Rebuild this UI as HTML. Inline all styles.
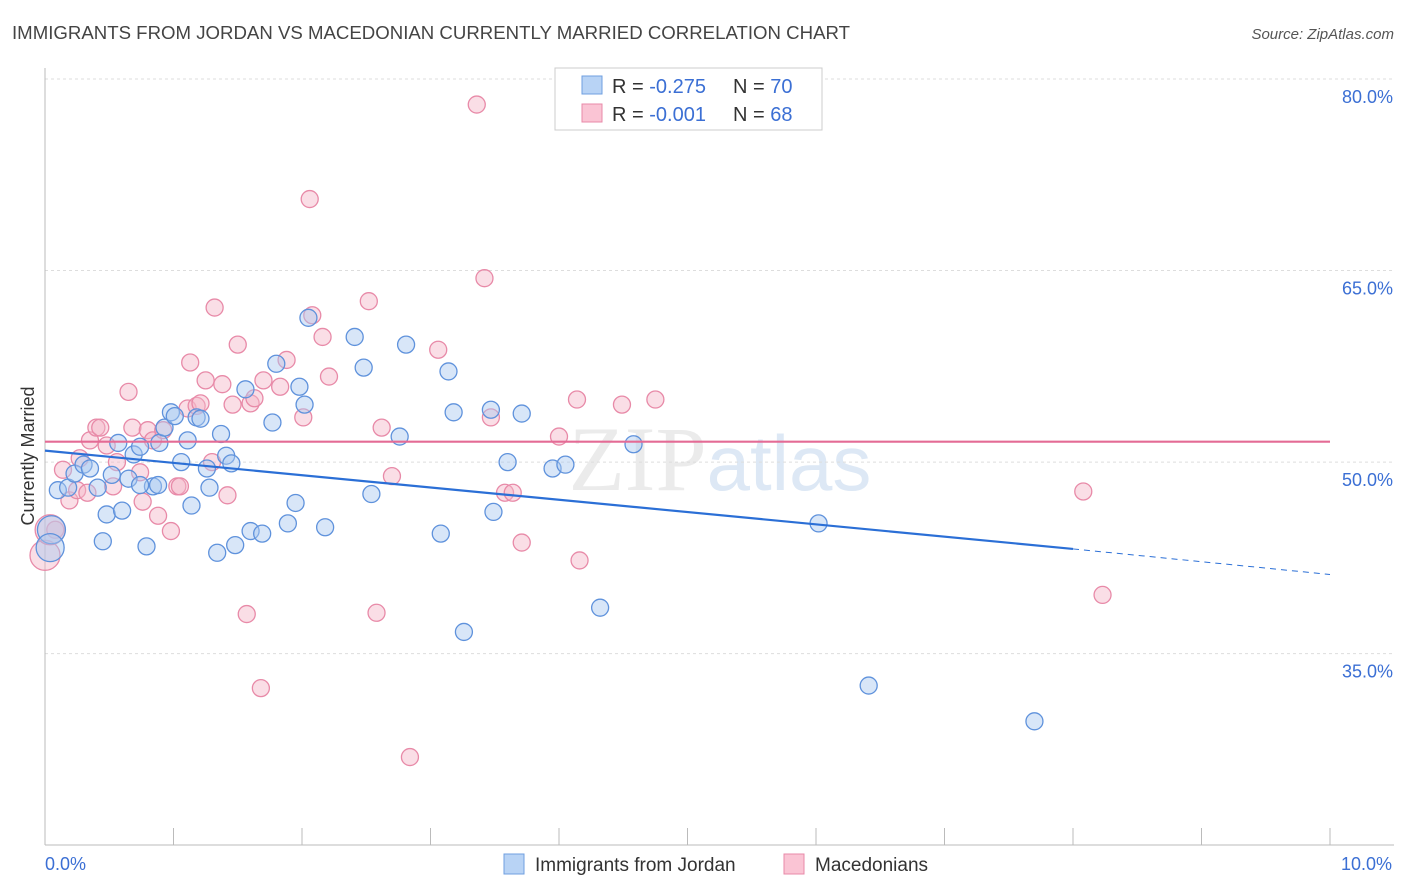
<!DOCTYPE html>
<html><head><meta charset="utf-8"><style>
body{margin:0;background:#fff;font-family:"Liberation Sans",sans-serif}
svg{display:block}
</style></head><body>
<svg id="chart" width="1406" height="892" viewBox="0 0 1406 892">
<text x="12" y="39" font-size="18" fill="#444" textLength="838" lengthAdjust="spacingAndGlyphs">IMMIGRANTS FROM JORDAN VS MACEDONIAN CURRENTLY MARRIED CORRELATION CHART</text>
<text x="1394" y="39" font-size="15" fill="#555" text-anchor="end" font-style="italic">Source: ZipAtlas.com</text>
<text x="720" y="490" font-size="92" text-anchor="middle" fill="#ebebeb" font-family="Liberation Serif, serif">ZIP<tspan fill="#dde8f5" font-family="Liberation Sans, sans-serif" font-size="78">atlas</tspan></text>
<g id="grid"></g>
<g id="axes"></g>
<g id="pts"></g>
<g id="lines"></g>
<text transform="translate(34,456) rotate(-90)" font-size="18" fill="#333" text-anchor="middle">Currently Married</text>
<g>
<rect x="555" y="68" width="267" height="62" fill="#fff" stroke="#ccc"/>
<rect x="582" y="76" width="20" height="18" fill="#b8d3f5" stroke="#6f9fe0"/>
<rect x="582" y="104" width="20" height="18" fill="#fac4d4" stroke="#e88aa8"/>
<text x="612" y="93" font-size="20" fill="#333">R = <tspan fill="#3b6fd4">-0.275</tspan></text>
<text x="733" y="93" font-size="20" fill="#333">N = <tspan fill="#3b6fd4">70</tspan></text>
<text x="612" y="121" font-size="20" fill="#333">R = <tspan fill="#3b6fd4">-0.001</tspan></text>
<text x="733" y="121" font-size="20" fill="#333">N = <tspan fill="#3b6fd4">68</tspan></text>
</g>
<g>
<rect x="504" y="854" width="20" height="20" fill="#b8d3f5" stroke="#6f9fe0"/>
<text x="535" y="871" font-size="19" fill="#333">Immigrants from Jordan</text>
<rect x="784" y="854" width="20" height="20" fill="#fac4d4" stroke="#e88aa8"/>
<text x="815" y="871" font-size="19" fill="#333">Macedonians</text>
</g>
</svg>
<script>
const yTicks=[80,65,50,35];
const yTickLabels=["80.0%","65.0%","50.0%","35.0%"];
const xTickLabels=["0.0%","10.0%"];
const blueX=[.10,.18,.23,.30,.35,.41,.48,.45,.57,.60,.65,.69,.74,.79,.84,.89,.93,.98,1.01,1.06,1.11,1.14,1.18,1.21,1.26,1.28,1.34,1.37,1.41,1.45,1.48,1.56,1.60,1.69,1.77,1.80,1.89,1.95,1.98,2.02,2.05,2.18,2.41,2.48,2.54,2.76,2.81,3.08,3.14,3.18,3.26,3.47,3.49,3.60,3.71,3.95,4.05,4.32,4.58,6.02,6.41,7.70,.52,.74,.88];
const blueY=[47.8,48.0,49.1,49.8,49.5,48.0,45.9,43.8,51.5,46.2,48.7,50.6,51.2,43.4,48.1,51.5,52.7,53.9,53.6,50.0,51.7,46.6,53.5,53.4,49.5,48.0,42.9,52.2,50.5,49.9,43.5,55.7,44.6,44.4,53.1,57.7,45.2,46.8,55.9,54.5,61.3,44.9,59.8,57.4,47.5,52.0,59.2,44.4,57.1,53.9,36.7,54.1,46.1,50.0,53.8,49.5,49.8,38.6,51.4,45.2,32.5,29.7,49.0,48.2,48.2];
const blueBigX=[.05,.04];
const blueBigY=[44.7,43.3];
const pinkX=[.08,.14,.19,.25,.27,.33,.35,.40,.43,.48,.53,.56,.65,.68,.74,.76,.80,.84,.88,.92,.98,1.03,1.05,1.11,1.13,1.18,1.21,1.25,1.30,1.32,1.38,1.42,1.46,1.50,1.57,1.60,1.63,1.68,1.70,1.83,1.88,2.01,2.06,2.08,2.16,2.21,2.52,2.58,2.62,2.70,2.84,3.06,3.36,3.42,3.47,3.58,3.64,3.71,4.00,4.14,4.16,4.49,4.75,8.08,8.23];
const pinkY=[44.7,49.4,47.0,47.8,50.3,47.6,51.7,52.7,52.7,51.3,48.1,50.0,55.5,52.7,49.2,46.9,52.5,51.7,45.8,52.5,44.6,48.1,48.1,54.2,57.8,54.4,54.6,56.4,50.0,62.1,56.1,47.4,54.5,59.2,38.1,54.6,55.0,32.3,56.4,55.9,58.0,53.5,70.6,61.5,59.8,56.7,62.6,38.2,52.7,48.9,26.9,58.8,78.0,64.4,53.5,47.6,47.6,43.7,52.0,54.9,42.3,54.5,54.9,47.7,39.6];
const pinkBigX=[0,.04];
const pinkBigY=[42.7,44.7];
const blueTrend=[50.9,43.2,41.2];
const pinkTrend=[51.6,51.6];
const NS="http://www.w3.org/2000/svg";
const X=v=>45+v*128.5, Y=v=>79+(80-v)*12.77;
function mk(tag,attrs,parent){const e=document.createElementNS(NS,tag);for(const k in attrs)e.setAttribute(k,attrs[k]);document.getElementById(parent).appendChild(e);return e;}
yTicks.forEach((t,i)=>{
 const l=mk('line',{x1:45,x2:1394,y1:Y(t),y2:Y(t),stroke:'#ddd','stroke-dasharray':'3,3'},'grid');
 
 
 const tx=mk('text',{x:1393,y:Y(t)+24,'font-size':18,fill:'#3b6fd4','text-anchor':'end'},'grid');
 tx.textContent=yTickLabels[i];
 
 
});
mk('line',{x1:45,x2:45,y1:68,y2:845,stroke:'#bbb'},'axes');
mk('line',{x1:45,x2:1394,y1:845,y2:845,stroke:'#bbb'},'axes');
for(let i=0;i<=10;i++){const t=mk('line',{x1:X(i),x2:X(i),y1:828,y2:845,stroke:'#bbb'},'axes');}
[[0,'start'],[10,'end']].forEach((p,i)=>{const t=mk('text',{x:X(p[0])+(i?62:0),y:870,'font-size':18,fill:'#3b6fd4','text-anchor':p[1]},'axes');t.textContent=xTickLabels[i];});
function dots(xs,ys,r,fill,stroke,name){xs.forEach((v,i)=>{const c=mk('circle',{cx:X(v),cy:Y(ys[i]),r:r,fill:fill,'fill-opacity':0.45,stroke:stroke,'stroke-width':1.3},'pts');});}
dots(pinkX,pinkY,8.5,'#f5b5c8','#e88aa8','macedonian-point');
dots(pinkBigX,pinkBigY,15,'#f5b5c8','#e88aa8','macedonian-point');
dots(blueX,blueY,8.5,'#a9c8f0','#5f92dc','jordan-point');
dots(blueBigX,blueBigY,14,'#a9c8f0','#5f92dc','jordan-point');
let l=mk('line',{x1:X(0),y1:Y(blueTrend[0]),x2:X(8),y2:Y(blueTrend[1]),stroke:'#2b6fd6','stroke-width':2.2},'lines');

l=mk('line',{x1:X(8),y1:Y(blueTrend[1]),x2:X(10),y2:Y(blueTrend[2]),stroke:'#2b6fd6','stroke-width':1,'stroke-dasharray':'6,5'},'lines');

l=mk('line',{x1:X(0),y1:Y(pinkTrend[0]),x2:X(10),y2:Y(pinkTrend[1]),stroke:'#e46b95','stroke-width':2.2},'lines');

</script>
</body></html>
